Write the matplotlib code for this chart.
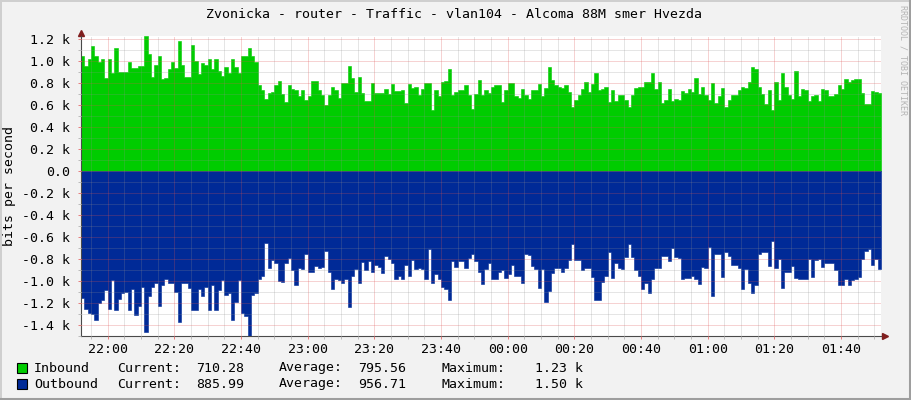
import pandas as pd
import matplotlib
matplotlib.use("Agg")
from matplotlib import pyplot as plt
import matplotlib.dates as mdates
from matplotlib.patches import Rectangle
from matplotlib.lines import Line2D
from matplotlib.ticker import MultipleLocator, FuncFormatter
from matplotlib.transforms import offset_copy

title = "Zvonicka - router - Traffic - vlan104 - Alcoma 88M smer Hvezda"
start = "2013-01-15 21:52"

# one sample per minute, bits per second
inbound = [
    1050, 960, 1020, 1140, 1050, 990, 1020, 850, 1020, 890,
    1120, 900, 900, 900, 990, 940, 940, 960, 960, 1230,
    1070, 860, 970, 1050, 840, 850, 930, 990, 940, 1180,
    970, 860, 860, 1150, 1000, 880, 980, 970, 1020, 930,
    1020, 910, 870, 950, 890, 1020, 950, 890, 1050, 1050,
    1120, 1050, 990, 780, 740, 660, 710, 720, 780, 820,
    700, 630, 780, 750, 740, 680, 740, 650, 680, 820,
    820, 740, 690, 600, 690, 770, 740, 670, 800, 800,
    960, 850, 720, 860, 710, 640, 640, 800, 710, 710,
    710, 750, 700, 790, 730, 730, 740, 620, 790, 760,
    770, 690, 750, 800, 800, 560, 740, 680, 810, 820,
    930, 690, 720, 740, 740, 780, 690, 570, 700, 830,
    690, 740, 710, 770, 780, 780, 630, 740, 800, 800,
    680, 670, 750, 690, 660, 740, 740, 790, 680, 760,
    950, 830, 780, 770, 760, 780, 720, 580, 650, 690,
    750, 810, 720, 790, 890, 740, 750, 770, 630, 740,
    640, 690, 690, 650, 580, 690, 760, 770, 770, 810,
    810, 890, 750, 810, 620, 650, 750, 640, 660, 650,
    730, 710, 750, 720, 850, 700, 770, 690, 650, 800,
    620, 680, 760, 580, 650, 690, 690, 740, 770, 760,
    810, 950, 930, 770, 700, 610, 740, 560, 810, 650,
    890, 770, 690, 660, 910, 680, 750, 740, 640, 680,
    690, 640, 750, 740, 680, 680, 700, 780, 750, 840,
    810, 830, 840, 840, 710, 610, 610, 730, 720, 710,
]
outbound = [
    1150, 1250, 1290, 1300, 1350, 1200, 1170, 1080, 1250, 990,
    1260, 1160, 1110, 1100, 1260, 1070, 1310, 1230, 1050, 1460,
    1140, 1050, 1020, 1230, 1040, 980, 1020, 1020, 1100, 1370,
    1020, 1020, 1060, 1260, 1260, 1070, 1140, 1050, 1260, 1040,
    1260, 1080, 990, 1130, 1110, 1350, 1190, 990, 1290, 1320,
    1500, 1130, 1110, 980, 950, 650, 880, 810, 840, 1000,
    1010, 840, 790, 900, 1040, 880, 890, 750, 920, 920,
    860, 880, 870, 730, 920, 1070, 980, 990, 1020, 980,
    1240, 950, 890, 1020, 830, 900, 820, 920, 850, 870,
    930, 770, 800, 840, 980, 950, 980, 850, 950, 810,
    890, 880, 890, 980, 710, 1020, 940, 980, 1050, 1070,
    1170, 820, 870, 820, 820, 880, 790, 750, 820, 920,
    1030, 890, 840, 980, 980, 920, 900, 970, 940, 850,
    950, 950, 1020, 750, 760, 860, 890, 1060, 890, 1190,
    1090, 930, 880, 880, 920, 880, 810, 660, 810, 810,
    900, 880, 880, 960, 1170, 1170, 1010, 950, 740, 970,
    840, 880, 890, 780, 660, 780, 900, 950, 1070, 1020,
    1110, 980, 880, 880, 770, 770, 820, 700, 780, 790,
    980, 970, 970, 950, 980, 1030, 870, 880, 690, 1140,
    750, 750, 960, 740, 770, 850, 850, 880, 1070, 890,
    1020, 1110, 1040, 750, 740, 740, 860, 640, 880, 800,
    1060, 920, 920, 860, 970, 980, 980, 980, 800, 960,
    810, 800, 870, 840, 840, 840, 900, 1040, 1040, 980,
    1040, 990, 980, 960, 800, 730, 710, 850, 800, 890,
]

series_names = ["Inbound", "Outbound"]
series_colors = ["#00CC00", "#002A97"]
current = [710.28, 885.99]
average = [795.56, 956.71]
maximum = [1230, 1500]

plt.rcParams["font.family"] = ["DejaVu Sans Mono"]
FS = 9.5
W, H = 911, 400

times = pd.date_range(start, periods=len(inbound) + 1, freq="min")
inb = inbound + [inbound[-1]]
out = [-v for v in outbound] + [-outbound[-1]]

fig = plt.figure(figsize=(W / 100, H / 100), dpi=100, facecolor="#F2F2F2")
ax = fig.add_axes([81 / W, 64 / H, 800 / W, 300 / H])
ax.set_facecolor("white")

ax.fill_between(times, 0, inb, step="post", facecolor=series_colors[0],
                edgecolor=series_colors[0], linewidth=0.4)
ax.fill_between(times, 0, out, step="post", facecolor=series_colors[1],
                edgecolor=series_colors[1], linewidth=0.4)

ax.set_xlim(times[0], times[-1])
ax.set_ylim(-max(outbound), max(inbound))


def kfmt(v, pos):
    if abs(v) < 1e-6:
        return "0.0"
    return "%.1f k" % (v / 1000.0)


ax.xaxis.set_major_locator(mdates.MinuteLocator(byminute=[0, 20, 40]))
ax.xaxis.set_minor_locator(mdates.MinuteLocator(byminute=range(0, 60, 5)))
ax.xaxis.set_major_formatter(mdates.DateFormatter("%H:%M"))
ax.yaxis.set_major_locator(MultipleLocator(200))
ax.yaxis.set_minor_locator(MultipleLocator(100))
ax.yaxis.set_major_formatter(FuncFormatter(kfmt))

# grid on top of the areas, dotted like rrdtool
ax.set_axisbelow(False)
ax.grid(which="major", color=(0.87, 0.31, 0.31), alpha=0.5, linestyle=(0, (1, 1)), linewidth=0.72)
ax.grid(which="minor", color=(0.56, 0.56, 0.56), alpha=0.45, linestyle=(0, (1, 1)), linewidth=0.72)

for s in ["top", "right"]:
    ax.spines[s].set_visible(False)
for s in ["left", "bottom"]:
    ax.spines[s].set_color("#4A4A4A")
    ax.spines[s].set_linewidth(0.8)

ax.tick_params(which="major", length=2, width=0.72, color=(0.9, 0.5, 0.5), labelsize=FS)
ax.tick_params(which="minor", length=2, width=0.72, color="#BBBBBB")
ax.tick_params(axis="x", which="major", pad=3)
ax.tick_params(axis="y", which="major", pad=6)

# axis arrows
arrow_color = (0.5, 0.12, 0.12)
ax.plot([0], [1], marker="^", ms=4.5, color=arrow_color, clip_on=False,
        transform=offset_copy(ax.transAxes, fig=fig, x=0, y=3, units="dots"))
ax.plot([1], [0], marker=">", ms=4.5, color=arrow_color, clip_on=False,
        transform=offset_copy(ax.transAxes, fig=fig, x=4, y=0, units="dots"))

# texts
fig.text(454.5 / W, 1 - 15 / H, title, ha="center", va="center", fontsize=FS)
fig.text(10 / W, 1 - 186 / H, "bits per second", rotation=90, ha="center", va="center", fontsize=FS)
fig.text(903 / W, 1 - 5 / H, "RRDTOOL / TOBI OETIKER", rotation=270, ha="center", va="top",
         fontsize=6, color="#B4B4B4")

# legend
rows_y = [368, 384]
for i, name in enumerate(series_names):
    y = 1 - rows_y[i] / H
    fig.patches.append(Rectangle((17 / W, y - 5 / H), 10 / W, 10 / H, transform=fig.transFigure,
                                 facecolor=series_colors[i], edgecolor="black", linewidth=0.8))
    fig.text(34 / W, y, name, va="center", fontsize=FS)
    fig.text(117 / W, y, "Current:", va="center", fontsize=FS)
    fig.text(244 / W, y, "%.2f" % current[i], ha="right", va="center", fontsize=FS)
    fig.text(279 / W, y, "Average:", va="center", fontsize=FS)
    fig.text(406 / W, y, "%.2f" % average[i], ha="right", va="center", fontsize=FS)
    fig.text(441 / W, y, "Maximum:", va="center", fontsize=FS)
    fig.text(583 / W, y, "%.2f k" % (maximum[i] / 1000.0), ha="right", va="center", fontsize=FS)

# 3d frame
fig.add_artist(Line2D([0, 1], [1 - 1 / H, 1 - 1 / H], transform=fig.transFigure, color="#CFCFCF", lw=1.44))
fig.add_artist(Line2D([1 / W, 1 / W], [0, 1], transform=fig.transFigure, color="#CFCFCF", lw=1.44))
fig.add_artist(Line2D([0, 1], [1.5 / H, 1.5 / H], transform=fig.transFigure, color="#9E9E9E", lw=2.2))
fig.add_artist(Line2D([1 - 1.5 / W, 1 - 1.5 / W], [0, 1], transform=fig.transFigure, color="#9E9E9E", lw=2.2))

fig.savefig("out.png", dpi=100, facecolor=fig.get_facecolor())
